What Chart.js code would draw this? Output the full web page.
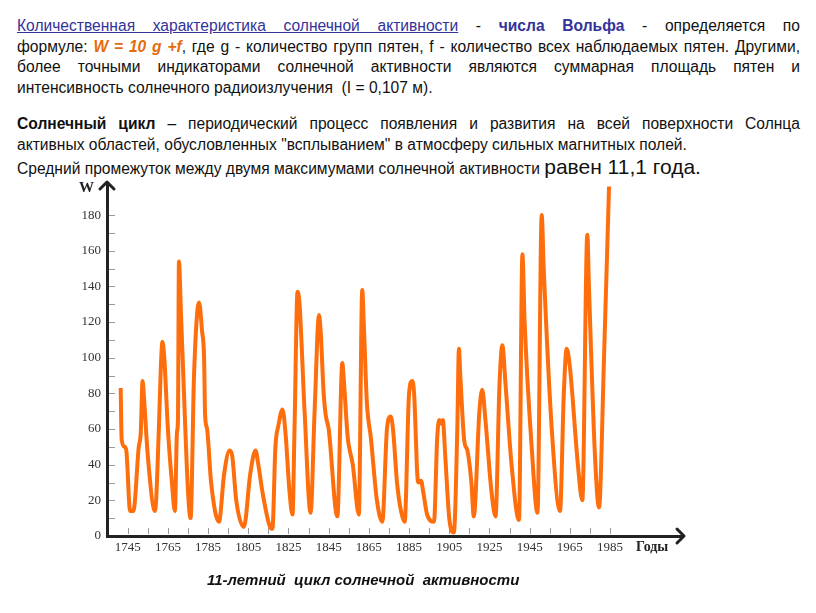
<!DOCTYPE html>
<html>
<head>
<meta charset="utf-8">
<script src="https://cdn.jsdelivr.net/npm/chart.js@4.4.1/dist/chart.umd.min.js"></script>
<style>
  body { margin: 0; background: #fff; width: 816px; height: 613px; position: relative; overflow: hidden; }
  .txt { position: absolute; left: 17px; width: 783px; font-family: "Liberation Sans", Arial, sans-serif; font-size: 15.6px; color: #111; }
  .ln { height: 20.7px; line-height: 20.7px; text-align: justify; text-align-last: justify; white-space: nowrap; }
  .ln.last { text-align-last: left; }
  .blue { color: #333399; }
  .orange { color: #e46c0a; font-weight: bold; font-style: italic; }
  #chart { position: absolute; left: 0; top: 0; }
  .lbl { position: absolute; font-family: "Liberation Serif", "Times New Roman", serif; font-weight: bold; color: #222; }
</style>
</head>
<body>
<div class="txt" style="top:16px">
  <div class="ln"><span class="blue" style="text-decoration:underline">Количественная характеристика солнечной активности</span> - <b class="blue">числа Вольфа</b> - определяется по</div>
  <div class="ln">формуле: <span class="orange">W = 10 g +f</span>, где g - количество групп пятен, f - количество всех наблюдаемых пятен. Другими,</div>
  <div class="ln">более точными индикаторами солнечной активности являются суммарная площадь пятен и</div>
  <div class="ln last">интенсивность солнечного радиоизлучения &nbsp;(I = 0,107 м).</div>
</div>
<div class="txt" style="top:114px">
  <div class="ln"><b>Солнечный цикл</b> – периодический процесс появления и развития на всей поверхности Солнца</div>
  <div class="ln last">активных областей, обусловленных "всплыванием" в атмосферу сильных магнитных полей.</div>
  <div class="ln last" style="height:24px;line-height:24px">Средний промежуток между двумя максимумами солнечной активности <span style="font-size:21px">равен 11,1 года.</span></div>
</div>

<canvas id="chart" width="816" height="613"></canvas>
<div class="lbl" style="left:79px;top:179px;font-size:15px">W</div>
<div class="lbl" style="left:636px;top:539px;font-size:14px">Годы</div>
<div style="position:absolute;left:207px;top:571px;font:italic bold 15px 'Liberation Sans', Arial, sans-serif;color:#111;white-space:pre">11-летний  цикл солнечной  активности</div>

<script>
// Wolf numbers (year, value)
const years = [1741.5, 1742, 1743.5, 1744.3, 1746.2, 1747.8, 1750.5, 1751.5, 1752.4, 1753.2,
  1755, 1758.6, 1760.5, 1761.5, 1762.3, 1763.2, 1765, 1767, 1768.5, 1769.5,
  1770, 1770.5, 1771.5, 1773, 1775, 1776.3, 1778, 1780.5, 1782, 1783,
  1783.5, 1784.5, 1786.5, 1790.4, 1793, 1795.7, 1797, 1799, 1802.8, 1806,
  1808.6, 1810, 1812, 1815.5, 1817, 1818.5, 1820, 1822, 1823.5, 1825.5,
  1827, 1828, 1829.5, 1830.5, 1833, 1836, 1838, 1840.2, 1841, 1842.5,
  1843.5, 1845, 1849.3, 1851.8, 1852.5, 1854.5, 1855.5, 1857, 1860, 1861.7,
  1862.5, 1864, 1866, 1869, 1871.7, 1874, 1875.8, 1877, 1879, 1881,
  1882.8, 1885, 1886.6, 1887.5, 1889.5, 1891, 1892, 1894, 1897.4, 1899,
  1900, 1901, 1901.8, 1903, 1905, 1907.3, 1909, 1909.8, 1910.5, 1912.5,
  1914, 1916, 1917.2, 1920, 1921.4, 1923, 1926, 1928, 1930, 1931.4,
  1933, 1936, 1939.7, 1941.4, 1942.5, 1946, 1948.9, 1951, 1952, 1956,
  1960.1, 1962, 1963.4, 1965, 1969, 1971.2, 1973.7, 1974.5, 1977.5, 1979.5,
  1982, 1984.5];
const wolf = [83, 54, 50, 48, 14, 14, 50, 58, 87, 76,
  45, 14, 60, 95, 109, 100, 60, 30, 14, 58,
  65, 154, 125, 80, 25, 10, 90, 131, 115, 100,
  68, 60, 30, 8, 35, 48, 45, 20, 5, 35,
  48, 40, 25, 6, 4, 50, 62, 71, 58, 25,
  12, 60, 137, 130, 70, 13, 70, 124, 115, 80,
  68, 60, 11, 97, 88, 55, 48, 40, 12, 138,
  118, 75, 55, 20, 8, 60, 67, 60, 30, 14,
  8, 80, 87, 80, 30, 31, 25, 12, 8, 55,
  65, 63, 65, 45, 10, 2, 60, 105, 90, 53,
  48, 30, 11, 70, 82, 65, 25, 11, 85, 107,
  85, 40, 9, 158, 120, 50, 13, 180, 150, 60,
  14, 80, 105, 95, 40, 20, 169, 140, 45, 16,
  100, 196];

const xTicks = [1745, 1755, 1765, 1775, 1785, 1795, 1805, 1815, 1825, 1835, 1845, 1855,
  1865, 1875, 1885, 1895, 1905, 1915, 1925, 1935, 1945, 1955, 1965, 1975, 1985];
const xLabels = ["1745", "1765", "1785", "1805", "1825", "1845", "1865", "1885", "1905", "1925", "1945", "1965", "1985"];
const yTicks = [0, 10, 20, 30, 40, 50, 60, 70, 80, 90, 100, 110, 120, 130, 140, 150, 160, 170, 180];
const yLabels = ["0", "20", "40", "60", "80", "100", "120", "140", "160", "180"];

const axisColor = "#222";

// small ticks inside the plot and the arrow heads on both axes
const axisDecor = {
  id: "axisDecor",
  beforeDatasetsDraw(chart) {
    const { ctx, chartArea, scales } = chart;
    ctx.save();
    ctx.strokeStyle = "#999";
    ctx.lineWidth = 1;
    yTicks.forEach(v => {
      if (v === 0) return;
      const y = Math.round(scales.y.getPixelForValue(v)) + 0.5;
      ctx.beginPath();
      ctx.moveTo(chartArea.left + 2, y);
      ctx.lineTo(chartArea.left + 8, y);
      ctx.stroke();
    });
    xTicks.forEach(v => {
      const x = Math.round(scales.x.getPixelForValue(v)) + 0.5;
      ctx.beginPath();
      ctx.moveTo(x, chartArea.bottom - 2);
      ctx.lineTo(x, chartArea.bottom - 8);
      ctx.stroke();
    });
    ctx.restore();
  },
  afterDraw(chart) {
    const { ctx, chartArea } = chart;
    ctx.save();
    ctx.strokeStyle = axisColor;
    ctx.lineWidth = 3;
    ctx.lineCap = "round";
    ctx.lineJoin = "round";
    ctx.beginPath();
    ctx.moveTo(chartArea.left - 7, chartArea.top + 6);
    ctx.lineTo(chartArea.left, chartArea.top - 1);
    ctx.lineTo(chartArea.left + 7, chartArea.top + 6);
    ctx.stroke();
    ctx.beginPath();
    ctx.moveTo(chartArea.right - 6, chartArea.bottom - 7);
    ctx.lineTo(chartArea.right + 1, chartArea.bottom);
    ctx.lineTo(chartArea.right - 6, chartArea.bottom + 7);
    ctx.stroke();
    ctx.restore();
  }
};

new Chart(document.getElementById("chart"), {
  type: "line",
  data: {
    datasets: [{
      data: years.map((x, i) => ({ x: x, y: wolf[i] })),
      borderColor: "#ff6e0c",
      borderWidth: 4,
      pointRadius: 0,
      cubicInterpolationMode: "monotone",
      fill: false,
    }],
  },
  options: {
    responsive: false,
    animation: false,
    events: [],
    layout: { padding: { left: 57, top: 183, right: 133, bottom: 47 } },
    plugins: { legend: { display: false }, tooltip: { enabled: false } },
    scales: {
      x: {
        type: "linear",
        min: 1734.7,
        max: 2021.3,
        afterBuildTicks: (axis) => { axis.ticks = xTicks.map(v => ({ value: v })); },
        afterFit: (axis) => { axis.height = 30; },
        grid: { display: true, drawOnChartArea: false, drawTicks: false },
        border: { color: axisColor, width: 3 },
        ticks: {
          autoSkip: false,
          maxRotation: 0,
          padding: 4,
          color: "#333",
          font: { family: "Liberation Serif", size: 13 },
          callback: (v) => xLabels.includes(String(v)) ? String(v) : "",
        },
      },
      y: {
        min: 0,
        max: 198,
        afterBuildTicks: (axis) => { axis.ticks = yTicks.map(v => ({ value: v })); },
        afterFit: (axis) => { axis.width = 50; },
        grid: { display: true, drawOnChartArea: false, drawTicks: false },
        border: { color: axisColor, width: 3 },
        ticks: {
          autoSkip: false,
          padding: 6,
          color: "#333",
          font: { family: "Liberation Serif", size: 13 },
          callback: (v) => yLabels.includes(String(v)) ? String(v) : "",
        },
      },
    },
  },
  plugins: [axisDecor],
});
</script>
</body>
</html>
